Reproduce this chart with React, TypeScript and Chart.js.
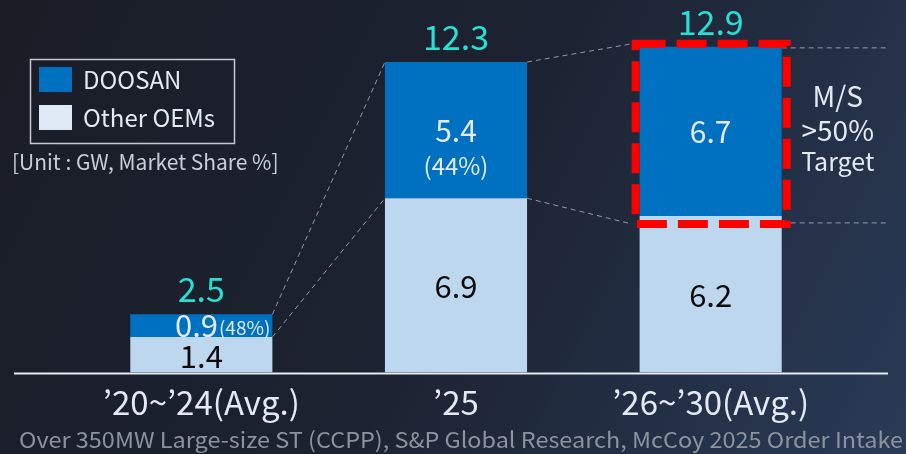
import React, { useEffect, useRef } from "react";
import { Chart, registerables } from "chart.js";

Chart.register(...registerables);

const FONT = '"Noto Sans CJK KR", "Noto Sans", sans-serif';

const categories = ["’20~’24(Avg.)", "’25", "’26~’30(Avg.)"];
const doosanGW = [0.9, 5.4, 6.7];
const otherGW = [1.4, 6.9, 6.2];
const totalGW = [2.5, 12.3, 12.9];
const doosanShare = ["(48%)", "(44%)", ""];
const seriesNames = ["DOOSAN", "Other OEMs"];
const unitNote = "[Unit : GW, Market Share %]";
const targetNote = ["M/S", ">50%", "Target"];
const sourceNote =
  "Over 350MW Large-size ST (CCPP), S&P Global Research, McCoy 2025 Order Intake";
const highlightIndex = 2;

const COLORS = {
  doosan: "#0070c0",
  other: "#bdd7ee",
  otherSwatch: "#dfe9f6",
  total: "#27e0d4",
  text: "#e3eaf3",
  dark: "#0a0a0a",
  note: "#c8cfd8",
  source: "#8c939e",
  red: "#ff0000",
  connector: "rgba(200,200,205,0.7)",
};

function txt(
  ctx: CanvasRenderingContext2D,
  s: string,
  x: number,
  y: number,
  size: number,
  color: string,
  align: CanvasTextAlign = "center"
) {
  ctx.font = `400 ${size}px ${FONT}`;
  ctx.fillStyle = color;
  ctx.textAlign = align;
  ctx.textBaseline = "middle";
  ctx.fillText(s, x, y);
}

const backgroundPlugin = {
  id: "bg",
  beforeDraw(chart: any) {
    const { ctx, width, height } = chart;
    ctx.save();
    const g = ctx.createLinearGradient(0, 0, width, height);
    g.addColorStop(0, "#1a1d26");
    g.addColorStop(0.5, "#1c2231");
    g.addColorStop(1, "#2a3b57");
    ctx.fillStyle = g;
    ctx.fillRect(0, 0, width, height);
    ctx.restore();
  },
};

function boxRect(d: any) {
  const left = d.x - d.width / 2;
  const right = d.x + d.width / 2;
  return { x: left - 4, y: d.y - 3, w: right - left + 9, h: d.base - d.y + 11 };
}

const decorPlugin = {
  id: "decor",
  beforeDatasetsDraw(chart: any) {
    const { ctx, chartArea } = chart;
    const md = chart.getDatasetMeta(1).data;
    ctx.save();
    // baseline
    ctx.strokeStyle = "#e6ebf2";
    ctx.lineWidth = 2;
    ctx.beginPath();
    ctx.moveTo(14, chartArea.bottom + 1);
    ctx.lineTo(888, chartArea.bottom + 1);
    ctx.stroke();
    // connectors
    ctx.strokeStyle = COLORS.connector;
    ctx.lineWidth = 1;
    ctx.setLineDash([5, 4]);
    for (let i = 0; i < md.length - 1; i++) {
      const a = md[i];
      const b = md[i + 1];
      const aRight = a.x + a.width / 2;
      let bLeft = b.x - b.width / 2;
      let bTop = b.y;
      let bSplit = b.base;
      if (i + 1 === highlightIndex) {
        const r = boxRect(b);
        bLeft = r.x - 4;
        bTop = r.y;
        bSplit = r.y + r.h;
      }
      ctx.beginPath();
      ctx.moveTo(aRight, a.y);
      ctx.lineTo(bLeft, bTop);
      ctx.moveTo(aRight, a.base);
      ctx.lineTo(bLeft, bSplit);
      ctx.stroke();
    }
    // right guide lines from highlighted bar
    const h = md[highlightIndex];
    const r = boxRect(h);
    ctx.beginPath();
    ctx.moveTo(h.x + h.width / 2, h.y + 1);
    ctx.lineTo(887, h.y + 1);
    ctx.moveTo(h.x + h.width / 2, r.y + r.h - 1);
    ctx.lineTo(887, r.y + r.h - 1);
    ctx.stroke();
    ctx.restore();
  },
  afterDatasetsDraw(chart: any) {
    const { ctx } = chart;
    const mo = chart.getDatasetMeta(0).data;
    const md = chart.getDatasetMeta(1).data;
    ctx.save();
    // red target box
    const h = md[highlightIndex];
    const r = boxRect(h);
    ctx.strokeStyle = COLORS.red;
    ctx.lineWidth = 8;
    ctx.setLineDash([30, 11]);
    ctx.lineDashOffset = 0;
    ctx.strokeRect(r.x, r.y, r.w, r.h);
    ctx.setLineDash([]);

    for (let i = 0; i < md.length; i++) {
      const o = mo[i];
      const d = md[i];
      txt(ctx, otherGW[i].toFixed(1), o.x, (o.y + o.base) / 2 + 1, 31, COLORS.dark);
      const segH = d.base - d.y;
      const mid = (d.y + d.base) / 2;
      if (segH < 40) {
        const right = d.x + d.width / 2 - 2;
        ctx.font = `400 19px ${FONT}`;
        const sw = ctx.measureText(doosanShare[i]).width;
        txt(ctx, doosanShare[i], right, mid + 2, 19, COLORS.text, "right");
        txt(ctx, doosanGW[i].toFixed(1), right - sw - 1, mid, 31, COLORS.text, "right");
      } else {
        txt(ctx, doosanGW[i].toFixed(1), d.x, mid, 30, COLORS.text);
        if (doosanShare[i]) txt(ctx, doosanShare[i], d.x, mid + 36, 24, COLORS.text);
      }
      txt(ctx, totalGW[i].toFixed(1), d.x, d.y - 25, 34, COLORS.total);
    }
    // target note
    const nx = h.x + h.width / 2 + 56;
    txt(ctx, targetNote[0], nx, h.y + 50, 28, COLORS.text);
    txt(ctx, targetNote[1], nx, h.y + 84, 28, COLORS.text);
    txt(ctx, targetNote[2], nx, h.y + 115, 25, COLORS.text);
    ctx.restore();
  },
  afterDraw(chart: any) {
    const { ctx } = chart;
    ctx.save();
    // legend
    ctx.strokeStyle = "#c4c8d0";
    ctx.lineWidth = 1.5;
    ctx.strokeRect(30.5, 59.5, 204, 84);
    const swatches = [COLORS.doosan, COLORS.otherSwatch];
    for (let k = 0; k < seriesNames.length; k++) {
      ctx.fillStyle = swatches[k];
      ctx.fillRect(39, 67 + k * 38, 33, 25);
      txt(ctx, seriesNames[k], 83, 80 + k * 38, 24, COLORS.text, "left");
    }
    txt(ctx, unitNote, 12, 162, 21, COLORS.note, "left");
    // source
    ctx.font = `400 22px ${FONT}`;
    const w = ctx.measureText(sourceNote).width;
    ctx.translate(19, 440);
    ctx.scale(884 / w, 1);
    txt(ctx, sourceNote, 0, 0, 22, COLORS.source, "left");
    ctx.restore();
  },
};

export default function App() {
  const ref = useRef<HTMLCanvasElement | null>(null);
  useEffect(() => {
    if (!ref.current) return;
    const chart = new Chart(ref.current, {
      type: "bar",
      data: {
        labels: categories,
        datasets: [
          {
            label: seriesNames[1],
            data: otherGW,
            backgroundColor: COLORS.other,
            borderWidth: 0,
          },
          {
            label: seriesNames[0],
            data: doosanGW,
            backgroundColor: COLORS.doosan,
            borderWidth: 0,
          },
        ],
      },
      options: {
        responsive: false,
        animation: false,
        devicePixelRatio: 1,
        layout: { padding: { left: 74, right: 68, top: 9, bottom: 22 } },
        datasets: { bar: { barPercentage: 0.558, categoryPercentage: 1 } },
        plugins: {
          legend: { display: false },
          tooltip: { enabled: false },
          title: { display: false },
        },
        scales: {
          x: {
            stacked: true,
            grid: { display: false, drawTicks: false, tickLength: 0 },
            border: { display: false },
            ticks: {
              color: COLORS.text,
              font: { family: FONT, size: 33 },
              padding: 10,
              maxRotation: 0,
              autoSkip: false,
            },
          },
          y: {
            stacked: true,
            display: false,
            min: 0,
            max: 14.4,
          },
        },
      },
      plugins: [backgroundPlugin, decorPlugin],
    });
    return () => chart.destroy();
  }, []);
  return (
    <div style={{ position: "fixed", left: 0, top: 0, width: 906, height: 454 }}>
      <canvas ref={ref} width={906} height={454} style={{ display: "block" }} />
    </div>
  );
}
